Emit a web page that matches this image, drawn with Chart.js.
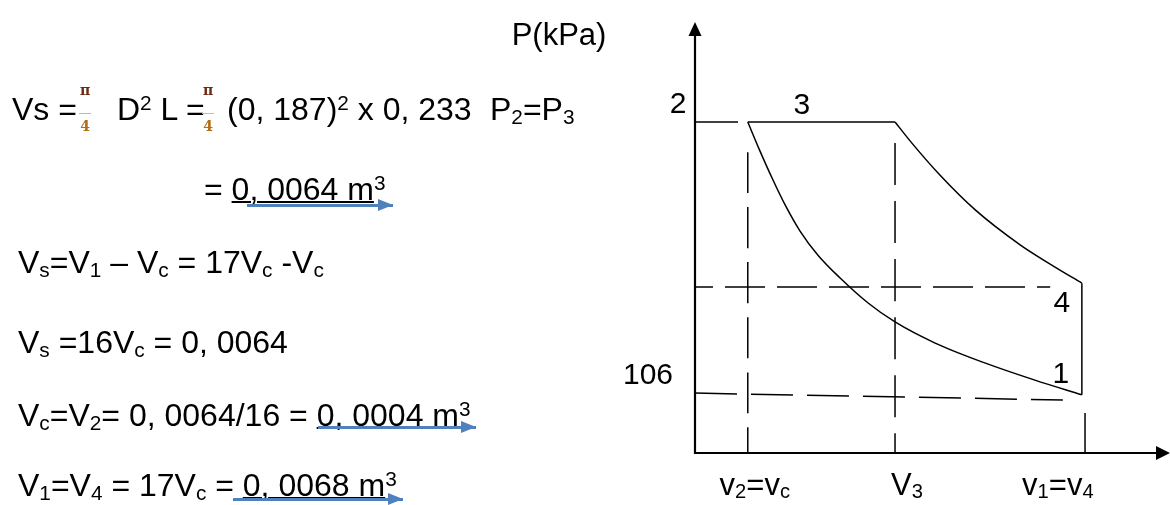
<!DOCTYPE html>
<html lang="pt">
<head>
<meta charset="UTF-8" />
<title>Diagrama P-V</title>
<script src="https://cdn.jsdelivr.net/npm/chart.js"></script>
<style>
  body { margin: 0; background: #fff; }
  #page { position: relative; width: 1170px; height: 505px; overflow: hidden;
          font-family: "Liberation Sans", Arial, sans-serif; color: #000; }
  #pv { position: absolute; left: 0; top: 0; }
  .eq { position: absolute; font-size: 32px; line-height: 32px; white-space: pre; }
  .eq u { text-decoration-thickness: 1.5px; text-underline-offset: 1px; }
  sub { font-size: 65%; vertical-align: -0.18em; line-height: 0; }
  sup { font-size: 65%; vertical-align: 0.48em; line-height: 0; }
  .frac { position: absolute; top: 83px; width: 16px; height: 50px; text-align: center;
          font-family: "DejaVu Serif", serif; font-weight: bold; }
  .frac .pi { position: absolute; left: 0; right: 0; top: 0; font-size: 14px; line-height: 14px; color: #6e2a14; }
  .frac .bar { position: absolute; left: 2px; right: 2px; top: 30px; height: 1px; background: #bbb; }
  .frac .den { position: absolute; left: 0; right: 0; top: 36px; font-size: 14px; line-height: 14px; color: #b36d14; }
  .arrow { position: absolute; height: 3px; background: #4f81bd; }
  .arrow::after { content: ""; position: absolute; right: 0; top: -5px;
                  border-left: 15px solid #4f81bd; border-top: 6.5px solid transparent;
                  border-bottom: 6.5px solid transparent; }
  .lbl { position: absolute; transform: translate(-50%, -50%); line-height: 1; white-space: nowrap; }
</style>
</head>
<body>
<div id="page">
  <canvas id="pv" width="1170" height="505"></canvas>

  <!-- worked equations on the left -->
  <div class="eq" style="left:12px;top:93px">Vs =</div>
  <div class="frac" style="left:77px"><span class="pi">π</span><span class="bar"></span><span class="den">4</span></div>
  <div class="eq" style="left:117px;top:93px">D<sup>2</sup> L =</div>
  <div class="frac" style="left:200px"><span class="pi">π</span><span class="bar"></span><span class="den">4</span></div>
  <div class="eq" style="left:227px;top:93px">(0, 187)<sup>2</sup> x 0, 233</div>
  <div class="eq" style="left:490px;top:93px">P<sub>2</sub>=P<sub>3</sub></div>

  <div class="eq" style="left:204px;top:173px">= <u>0, 0064 m</u><sup>3</sup></div>
  <div class="arrow" style="left:247px;top:203.5px;width:146px"></div>

  <div class="eq" style="left:18px;top:246px">V<sub>s</sub>=V<sub>1</sub> – V<sub>c</sub> = 17V<sub>c</sub> -V<sub>c</sub></div>
  <div class="eq" style="left:18px;top:326px">V<sub>s</sub> =16V<sub>c</sub> = 0, 0064</div>
  <div class="eq" style="left:18px;top:399px">V<sub>c</sub>=V<sub>2</sub>= 0, 0064/16 = <u>0, 0004 m</u><sup>3</sup></div>
  <div class="arrow" style="left:318px;top:425.5px;width:158px"></div>
  <div class="eq" style="left:18px;top:469px">V<sub>1</sub>=V<sub>4</sub> = 17V<sub>c</sub> = <u>0, 0068 m</u><sup>3</sup></div>
  <div class="arrow" style="left:233px;top:498px;width:170px"></div>
</div>

<script>
  // diagram units: not to scale
  const states = ["1", "2", "3", "4"];
  const stateVolume = [7.33, 1.0, 3.79, 7.33];
  const statePressure = [1.35, 7.68, 7.68, 3.94];

  // expansion 3 -> 4
  const expansionV = [3.79, 4.11, 4.64, 5.31, 6.16, 6.76, 7.33];
  const expansionP = [7.68, 7.19, 6.45, 5.64, 4.83, 4.36, 3.94];

  // compression 1 -> 2 (listed from 2 to 1)
  const compressionV = [1.0, 1.23, 1.46, 1.71, 1.99, 2.33, 2.75, 3.28, 3.79, 4.55, 5.49, 6.44, 7.33];
  const compressionP = [7.68, 7.01, 6.38, 5.75, 5.15, 4.59, 4.06, 3.48, 3.04, 2.55, 2.09, 1.69, 1.35];

  // dashed guide lines
  const guideP2V = [0, 0.815];
  const guideP4V = [0, 6.73];
  const guideP4P = [3.85, 3.85];
  const guideP1V = [0, 6.97];
  const guideP1P = [1.39, 1.23];
  const guideV2P = [6.98, 0];
  const guideV3P = [7.19, 0];
  const tickV1V = 7.39;
  const tickV1P = [0.93, 0];

  const axisTitle = "P(kPa)";
  const pressureLabel = "106";
  const volumeTicks = [1.0, 3.79, 7.33];
  const volumeTickLabels = ["v<sub>2</sub>=v<sub>c</sub>", "V<sub>3</sub>", "v<sub>1</sub>=v<sub>4</sub>"];

  const zip = (xs, ys) => xs.map((x, i) => ({ x: x, y: ys[i] }));
  const i1 = states.indexOf("1"), i2 = states.indexOf("2"), i3 = states.indexOf("3"), i4 = states.indexOf("4");

  function line(data, width, dash, offset) {
    return {
      data: data,
      showLine: true,
      borderColor: "#000",
      borderWidth: width,
      borderDash: dash || [],
      borderDashOffset: offset || 0,
      pointRadius: 0,
      clip: false,
      cubicInterpolationMode: "monotone",
    };
  }

  // text labels: anchor in data units, nudge in pixels
  const labelLayout = [
    { html: states[i2], at: [0, statePressure[i2]], dx: -17, dy: -19, size: 30 },
    { html: states[i3], at: [stateVolume[i2], statePressure[i3]], dx: 54, dy: -18, size: 30 },
    { html: states[i4], at: [stateVolume[i4], statePressure[i4]], dx: -20, dy: 19, size: 30 },
    { html: states[i1], at: [stateVolume[i1], statePressure[i1]], dx: -21, dy: -22, size: 30 },
    { html: pressureLabel, at: [0, guideP1P[0]], dx: -47, dy: -19, size: 30 },
    { html: axisTitle, at: [0, 10], dx: -136, dy: 12, size: 31 },
    { html: volumeTickLabels[0], at: [volumeTicks[0], 0], dx: 7, dy: 31, size: 31 },
    { html: volumeTickLabels[1], at: [volumeTicks[1], 0], dx: 12, dy: 31, size: 31 },
    { html: volumeTickLabels[2], at: [volumeTicks[2], 0], dx: -24, dy: 31, size: 31 },
  ];

  const axisArrows = {
    id: "axisArrows",
    afterDatasetsDraw(chart) {
      const { ctx, chartArea: a } = chart;
      ctx.save();
      ctx.strokeStyle = "#000";
      ctx.fillStyle = "#000";
      ctx.lineWidth = 2.2;
      ctx.beginPath();
      ctx.moveTo(a.left, a.top + 12);
      ctx.lineTo(a.left, a.bottom + 1);
      ctx.moveTo(a.left - 1, a.bottom);
      ctx.lineTo(a.right - 12, a.bottom);
      ctx.stroke();
      ctx.beginPath();
      ctx.moveTo(a.left, a.top);
      ctx.lineTo(a.left - 6.5, a.top + 14);
      ctx.lineTo(a.left + 6.5, a.top + 14);
      ctx.closePath();
      ctx.fill();
      ctx.beginPath();
      ctx.moveTo(a.right, a.bottom);
      ctx.lineTo(a.right - 14, a.bottom - 7);
      ctx.lineTo(a.right - 14, a.bottom + 7);
      ctx.closePath();
      ctx.fill();
      ctx.restore();
    },
  };

  const htmlLabels = {
    id: "htmlLabels",
    afterRender(chart) {
      const page = document.getElementById("page");
      page.querySelectorAll(".lbl").forEach((el) => el.remove());
      labelLayout.forEach((l) => {
        const el = document.createElement("div");
        el.className = "lbl";
        el.innerHTML = l.html;
        el.style.fontSize = l.size + "px";
        el.style.left = chart.scales.x.getPixelForValue(l.at[0]) + l.dx + "px";
        el.style.top = chart.scales.y.getPixelForValue(l.at[1]) + l.dy + "px";
        page.appendChild(el);
      });
    },
  };

  new Chart(document.getElementById("pv"), {
    type: "scatter",
    data: {
      datasets: [
        line(zip(expansionV, expansionP), 1.5),
        line(zip(compressionV, compressionP), 1.5),
        line(zip([stateVolume[i2], stateVolume[i3]], [statePressure[i2], statePressure[i3]]), 1.5),
        line(zip([stateVolume[i4], stateVolume[i1]], [statePressure[i4], statePressure[i1]]), 1.5),
        line(zip(guideP2V, [statePressure[i2], statePressure[i2]]), 1.5),
        line(zip(guideP4V, guideP4P), 1.5, [40, 12], 22),
        line(zip(guideP1V, guideP1P), 1.5, [42, 14]),
        line(zip([volumeTicks[0], volumeTicks[0]], guideV2P), 1.5, [41, 14]),
        line(zip([volumeTicks[1], volumeTicks[1]], guideV3P), 1.5, [42, 16]),
        line(zip([tickV1V, tickV1V], tickV1P), 1.5),
      ],
    },
    options: {
      responsive: false,
      animation: false,
      layout: { padding: { left: 695, top: 22, right: 0, bottom: 52 } },
      plugins: { legend: { display: false }, tooltip: { enabled: false } },
      scales: {
        x: { type: "linear", min: 0, max: 9, display: false },
        y: { type: "linear", min: 0, max: 10, display: false },
      },
    },
    plugins: [axisArrows, htmlLabels],
  });
</script>
</body>
</html>
